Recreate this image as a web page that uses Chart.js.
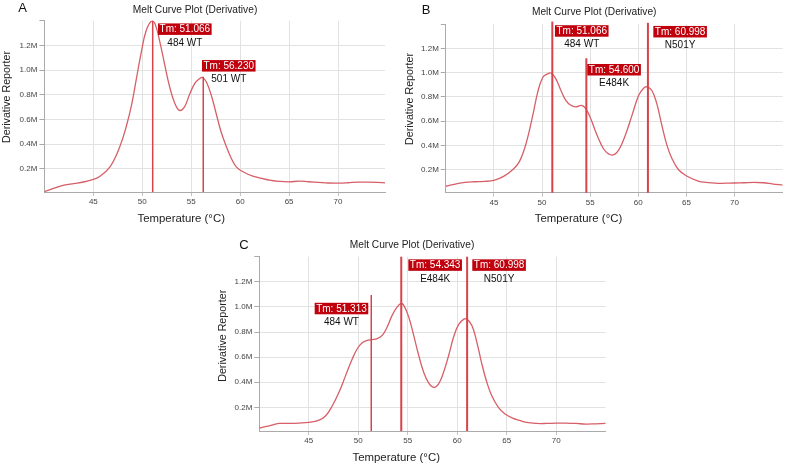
<!DOCTYPE html>
<html><head><meta charset="utf-8">
<script src="https://cdn.jsdelivr.net/npm/chart.js@4.4.0/dist/chart.umd.min.js"></script>
<style>
html,body{margin:0;padding:0;background:#fff;}
#wrap{position:relative;width:787px;height:465px;overflow:hidden;background:#fff;}
canvas{position:absolute;}
</style></head><body>
<div id="wrap">
<canvas id="cA" width="390" height="230" style="left:0px;top:0px"></canvas>
<canvas id="cB" width="392" height="230" style="left:395px;top:0px"></canvas>
<canvas id="cC" width="420" height="235" style="left:200px;top:230px"></canvas>
</div>
<script>
// ---------- data ----------
const chartTitle = 'Melt Curve Plot (Derivative)';
const xAxisTitle = 'Temperature (°C)';
const yAxisTitle = 'Derivative Reporter';
const xTickValues = [45, 50, 55, 60, 65, 70];
const yTickValues = [0.2, 0.4, 0.6, 0.8, 1.0, 1.2, 1.4];

const tempsA  = [40,41,42,43,44,45,45.6,46.7,47.7,48.4,48.9,49.4,49.9,50.4,50.95,51.3,51.8,52.3,52.8,53.3,53.8,54.3,54.8,55.35,55.85,56.15,56.55,57.05,57.55,58.05,58.6,59.1,59.6,60.3,61.3,63,64,65,66,67,68,69,70,71,72,73,74,74.8];
const valuesA = [0.015,0.043,0.067,0.080,0.093,0.115,0.135,0.216,0.378,0.553,0.715,0.93,1.146,1.32,1.398,1.375,1.227,1.04,0.863,0.736,0.674,0.70,0.796,0.89,0.93,0.94,0.904,0.796,0.648,0.50,0.378,0.284,0.216,0.176,0.14,0.108,0.098,0.094,0.10,0.095,0.09,0.085,0.084,0.087,0.092,0.092,0.09,0.086];

const tempsB  = [40,41,42,43,44,45,46,47,47.66,48.35,49.04,49.55,50.07,50.58,50.95,51.44,51.96,52.47,52.99,53.5,54.1,54.54,55.05,55.57,56.08,56.6,57.3,57.97,58.66,59.35,60.03,60.55,60.9,61.41,61.92,62.44,62.96,63.47,64.16,65.02,66.22,67,68.28,69,70,71,72,73,74,75];
const valuesB = [0.065,0.083,0.097,0.102,0.105,0.113,0.146,0.205,0.27,0.42,0.65,0.84,0.96,0.99,0.997,0.948,0.853,0.772,0.731,0.718,0.73,0.704,0.623,0.514,0.42,0.352,0.322,0.365,0.487,0.65,0.812,0.872,0.883,0.853,0.745,0.569,0.406,0.298,0.203,0.149,0.108,0.097,0.089,0.09,0.092,0.094,0.097,0.094,0.083,0.075];

const tempsC  = [40,41,42,43,44,45,46.04,46.71,47.38,48.05,48.72,49.4,49.9,50.4,50.91,51.41,51.91,52.42,52.92,53.42,53.93,54.3,54.6,55.1,55.6,56.11,56.61,57.11,57.62,58.12,58.62,59.13,59.63,60.13,60.64,60.97,61.48,61.98,62.48,62.99,63.49,64.16,64.83,65.67,66.17,67,68,69,70,71,72,73,74,75];
const valuesC = [0.035,0.053,0.072,0.072,0.075,0.08,0.098,0.133,0.213,0.32,0.453,0.587,0.667,0.715,0.733,0.739,0.747,0.773,0.84,0.933,1.0,1.027,1.013,0.92,0.773,0.613,0.48,0.395,0.36,0.387,0.48,0.613,0.76,0.859,0.901,0.903,0.853,0.72,0.547,0.40,0.293,0.20,0.147,0.112,0.099,0.08,0.072,0.072,0.075,0.075,0.072,0.067,0.069,0.072];

const tmA = [51.066, 56.230];
const namesA = ['484 WT', '501 WT'];
const tmB = [51.066, 54.600, 60.998];
const namesB = ['484 WT', 'E484K', 'N501Y'];
const tmC = [51.313, 54.343, 60.998];
const namesC = ['484 WT', 'E484K', 'N501Y'];

// ---------- styles ----------
const FONT = '"Liberation Sans", Arial, Helvetica, sans-serif';
const CURVE = '#d65f68';
const TMLINE = '#d8424a';
const TMBOX = '#c0000c';
const GRID = '#e2e2e2';
const AXIS = '#aaaaaa';

const tmPlugin = {
  id: 'tmMarks',
  afterDatasetsDraw(chart, args, opts) {
    const {ctx, chartArea, scales} = chart;
    const x = scales.x, y = scales.y;
    ctx.save();
    opts.marks.forEach(m => {
      const px = x.getPixelForValue(m.tm);
      const top = (m.top === null || m.top === undefined) ? chartArea.top : y.getPixelForValue(m.top);
      ctx.strokeStyle = TMLINE;
      ctx.lineWidth = m.lw;
      ctx.beginPath(); ctx.moveTo(px, top); ctx.lineTo(px, chartArea.bottom); ctx.stroke();
      ctx.font = '10px ' + FONT;
      const text = 'Tm: ' + m.tm.toFixed(3);
      const bw = ctx.measureText(text).width + 3, bh = 11.5;
      const bx = (m.boxRight !== undefined && m.boxRight !== null) ? x.getPixelForValue(m.boxRight) - bw : x.getPixelForValue(m.boxLeft);
      const by = y.getPixelForValue(m.boxTop);
      ctx.fillStyle = TMBOX; ctx.fillRect(bx, by, bw, bh);
      ctx.textAlign = 'center'; ctx.textBaseline = 'middle';
      ctx.fillStyle = '#ffffff'; ctx.fillText(text, bx + bw / 2, by + bh / 2 + 0.5);
      ctx.fillStyle = '#111111'; ctx.fillText(m.name, bx + bw / 2, by + 19.5);
    });
    ctx.restore();
  }
};

const textPlugin = {
  id: 'panelTexts',
  afterDraw(chart, args, o) {
    const ctx = chart.ctx;
    ctx.save();
    ctx.fillStyle = '#111';
    ctx.font = '13px ' + FONT; ctx.textAlign = 'left'; ctx.textBaseline = 'alphabetic';
    ctx.fillText(o.letter, o.letterX, o.letterY);
    ctx.fillStyle = '#222';
    ctx.textAlign = 'center'; ctx.textBaseline = 'middle';
    ctx.font = '10.2px ' + FONT; ctx.fillText(chartTitle, o.titleX, o.titleY);
    ctx.font = '11.4px ' + FONT; ctx.fillText(xAxisTitle, o.xtX, o.xtY);
    ctx.translate(o.ytX, o.ytY); ctx.rotate(-Math.PI / 2);
    ctx.font = '10.7px ' + FONT; ctx.fillText(yAxisTitle, 0, 0);
    ctx.restore();
  }
};

function makeChart(id, cfg) {
  const el = document.getElementById(id);
  const W = el.width, H = el.height;
  return new Chart(el, {
    type: 'line',
    data: {
      datasets: [{
        data: cfg.temps.map((t, i) => ({x: t, y: cfg.values[i]})),
        borderColor: CURVE, borderWidth: 1.3, pointRadius: 0,
        tension: 0.4, fill: false
      }]
    },
    options: {
      responsive: false, animation: false, devicePixelRatio: 1,
      layout: { padding: { left: 0, top: cfg.area.top, right: W - cfg.area.right, bottom: 0 } },
      plugins: {
        legend: { display: false }, tooltip: { enabled: false }, title: { display: false },
        tmMarks: { marks: cfg.marks },
        panelTexts: cfg.texts
      },
      scales: {
        x: {
          type: 'linear', min: 40, max: cfg.xMax,
          afterBuildTicks: s => { s.ticks = xTickValues.map(v => ({value: v})); },
          afterFit: s => { s.height = H - cfg.area.bottom; },
          grid: { color: GRID, tickLength: 4, tickColor: '#c4c4c4' },
          border: { color: AXIS },
          ticks: { font: { family: FONT, size: 8 }, color: '#444', padding: 1, maxRotation: 0, autoSkip: false }
        },
        y: {
          type: 'linear', min: 0.012, max: 1.4,
          afterBuildTicks: s => { s.ticks = yTickValues.map(v => ({value: v})); },
          afterFit: s => { s.width = cfg.area.left; },
          grid: { color: c => (c.tick && c.tick.value >= 1.39) ? 'rgba(0,0,0,0)' : GRID, tickLength: 5, tickColor: AXIS },
          border: { color: AXIS },
          ticks: { font: { family: FONT, size: 8 }, color: '#444', padding: 2,
                   callback: v => v >= 1.39 ? '' : v.toFixed(1) + 'M' }
        }
      }
    },
    plugins: [tmPlugin, textPlugin]
  });
}

makeChart('cA', {
  temps: tempsA, values: valuesA, xMax: 74.8,
  area: { left: 44.4, right: 385, top: 20.7, bottom: 192 },
  marks: [
    { tm: tmA[0], name: namesA[0], top: null, boxLeft: 51.61, boxTop: 1.378, lw: 1.5 },
    { tm: tmA[1], name: namesA[1], top: 0.945, boxLeft: 56.10, boxTop: 1.081, lw: 1.5 }
  ],
  texts: { letter: 'A', letterX: 18.3, letterY: 12, titleX: 195, titleY: 10, xtX: 181.2, xtY: 219, ytX: 6.7, ytY: 97 }
});

makeChart('cB', {
  temps: tempsB, values: valuesB, xMax: 75,
  area: { left: 50.8, right: 387.7, top: 24, bottom: 192.7 },
  marks: [
    { tm: tmB[0], name: namesB[0], top: 1.42, boxLeft: 51.34, boxTop: 1.39, lw: 2 },
    { tm: tmB[1], name: namesB[1], top: 1.118, boxLeft: 54.70, boxTop: 1.071, lw: 2 },
    { tm: tmB[2], name: namesB[2], top: 1.41, boxLeft: 61.56, boxTop: 1.384, lw: 2 }
  ],
  texts: { letter: 'B', letterX: 26.7, letterY: 14, titleX: 199.2, titleY: 12.5, xtX: 183.5, xtY: 219, ytX: 15, ytY: 99 }
});

makeChart('cC', {
  temps: tempsC, values: valuesC, xMax: 75,
  area: { left: 59.3, right: 405.7, top: 26.7, bottom: 201 },
  marks: [
    { tm: tmC[0], name: namesC[0], top: 1.095, boxRight: 51.01, boxTop: 1.033, lw: 1.5 },
    { tm: tmC[1], name: namesC[1], top: null, boxLeft: 55.06, boxTop: 1.379, lw: 2 },
    { tm: tmC[2], name: namesC[2], top: null, boxLeft: 61.52, boxTop: 1.379, lw: 2 }
  ],
  texts: { letter: 'C', letterX: 39.3, letterY: 19, titleX: 212, titleY: 15.5, xtX: 196.2, xtY: 227.5, ytX: 23.3, ytY: 105.8 }
});
</script>
</body></html>
